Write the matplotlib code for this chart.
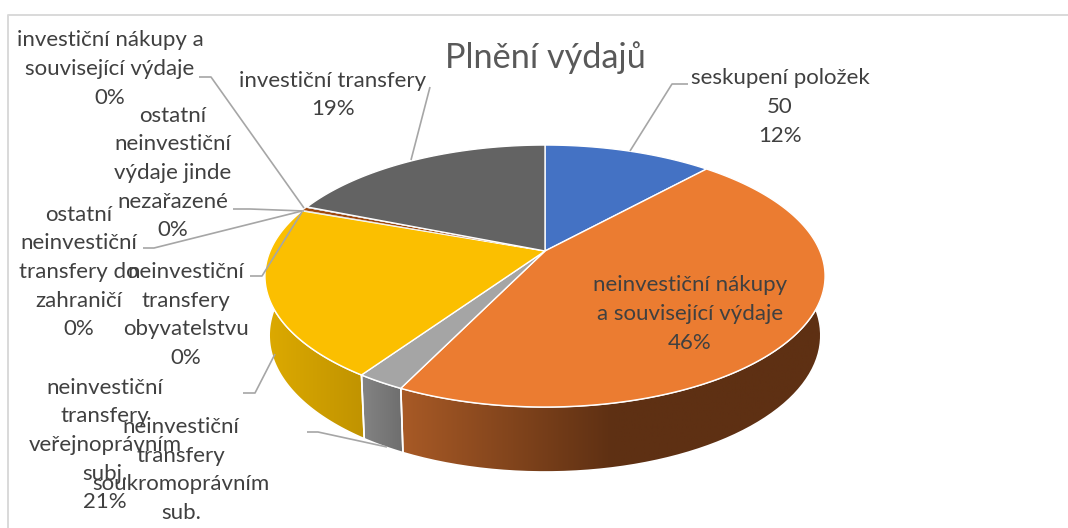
import numpy as np
import matplotlib
matplotlib.use('Agg')
import matplotlib.pyplot as plt
from matplotlib.colors import LinearSegmentedColormap
from matplotlib.patches import Polygon

plt.rcParams['font.family'] = ['Lato', 'DejaVu Sans']

# share of each group, clockwise from the top (labels round them to whole percent)
categories = ['seskupení položek 50', 'neinvestiční nákupy a související výdaje',
              'neinvestiční transfery soukromoprávním sub.', 'neinvestiční transfery veřejnoprávním subj.',
              'neinvestiční transfery obyvatelstvu', 'ostatní neinvestiční transfery do zahraničí',
              'ostatní neinvestiční výdaje jinde nezařazené', 'investiční nákupy a související výdaje',
              'investiční transfery']
shares = [11.7, 45.45, 2.35, 21.0, 0.05, 0.05, 0.4, 0.1, 18.9]
colors = ['#4472C4', '#EB7C31', '#A5A5A5', '#FBBF00', '#5B9BD5', '#70AD47', '#9E480E', '#264478', '#636363']

# wall gradients, left to right (only the front slices show a wall)
walls = {1: ['#A85A26', '#5E3013', '#5E3013'],
         2: ['#848484', '#6E6E6E'],
         3: ['#DDAA00', '#C09300']}

label_texts = ['investiční nákupy a\nsouvisející výdaje\n0%',
               'investiční transfery\n19%',
               'ostatní\nneinvestiční\nvýdaje jinde\nnezařazené\n0%',
               'ostatní\nneinvestiční\ntransfery do\nzahraničí\n0%',
               'neinvestiční\ntransfery\nobyvatelstvu\n0%',
               'neinvestiční\ntransfery\nveřejnoprávním\nsubj.\n21%',
               'neinvestiční\ntransfery\nsoukromoprávním\nsub.',
               'neinvestiční nákupy\na související výdaje\n46%',
               'seskupení položek\n50\n12%']
label_pos = [(110, 69), (333, 95), (173, 173), (79, 272), (186, 315),
             (105, 445), (181, 470), (690, 314), (780, 107)]
leaders = [[(199, 77), (211, 77), (304, 208)],
           [(430, 87), (411, 160)],
           [(233, 209), (250, 209), (304, 211)],
           [(143, 248), (154, 248), (302, 211)],
           [(250, 276), (262, 276), (302, 212)],
           [(243, 393), (255, 393), (275, 354)],
           [(307, 432), (318, 432), (387, 447)],
           [(688, 84), (672, 84), (630, 151)]]

cx, cy = 545, 251
A, B, a = 274.9, 126.2, 0.191  # perspective of the tilted disc


def rim(t):
    # t = cumulative percent, clockwise from the top
    ang = np.radians(np.asarray(t) * 3.6)
    u, v = np.sin(ang), np.cos(ang)
    d = 1 + a * v
    return cx + A * u / d, cy - B * v / d


def low_rim(t):
    x, y = rim(t)
    v = np.cos(np.radians(np.asarray(t) * 3.6))
    return cx + (x - cx) * 0.985, y + 58 - 7 * v


fig = plt.figure(figsize=(10.68, 5.28), dpi=100)
ax = fig.add_axes([0, 0, 1, 1])

edges = np.concatenate([[0], np.cumsum(shares)])

# walls first, the top face covers whatever is behind it
for i, cols in walls.items():
    t = np.linspace(edges[i], edges[i + 1], 80)
    x0, y0 = rim(t)
    x1, y1 = low_rim(t)
    pts = np.column_stack([np.r_[x0, x1[::-1]], np.r_[y0, y1[::-1]]])
    cmap = LinearSegmentedColormap.from_list('w%d' % i, cols)
    left, right = pts[:, 0].min(), pts[:, 0].max()
    im = ax.imshow(np.linspace(0, 1, 256)[None, :], cmap=cmap, aspect='auto', zorder=2,
                   extent=[left, right, pts[:, 1].max(), pts[:, 1].min()])
    outline = Polygon(pts, closed=True, facecolor='none', edgecolor='white', linewidth=1.2,
                      transform=ax.transData, zorder=3)
    ax.add_patch(outline)
    im.set_clip_path(outline)

for i, col in enumerate(colors):
    t = np.linspace(edges[i], edges[i + 1], max(int(shares[i] * 4), 3))
    x, y = rim(t)
    ax.fill(np.r_[cx, x], np.r_[cy, y], facecolor=col, edgecolor='white',
            linewidth=1.0 if shares[i] > 1 else 0.3, zorder=4)

for pts in leaders:
    pts = np.array(pts)
    ax.plot(pts[:, 0], pts[:, 1], color='#A6A6A6', lw=1.2, zorder=5, solid_capstyle='butt')

for txt, (x, y) in zip(label_texts, label_pos):
    ax.text(x, y, txt, ha='center', va='center', fontsize=16, color='#404040',
            linespacing=1.54, zorder=6)

ax.text(545, 58, 'Plnění výdajů', ha='center', va='center', fontsize=24.7, color='#595959', zorder=6)

# what is left of the chart frame
ax.plot([1068, 8, 8], [15, 15, 528], color='#D9D9D9', lw=1.4, zorder=1)

ax.set_xlim(0, 1068)
ax.set_ylim(528, 0)
ax.axis('off')
fig.savefig('out.png', dpi=100)
